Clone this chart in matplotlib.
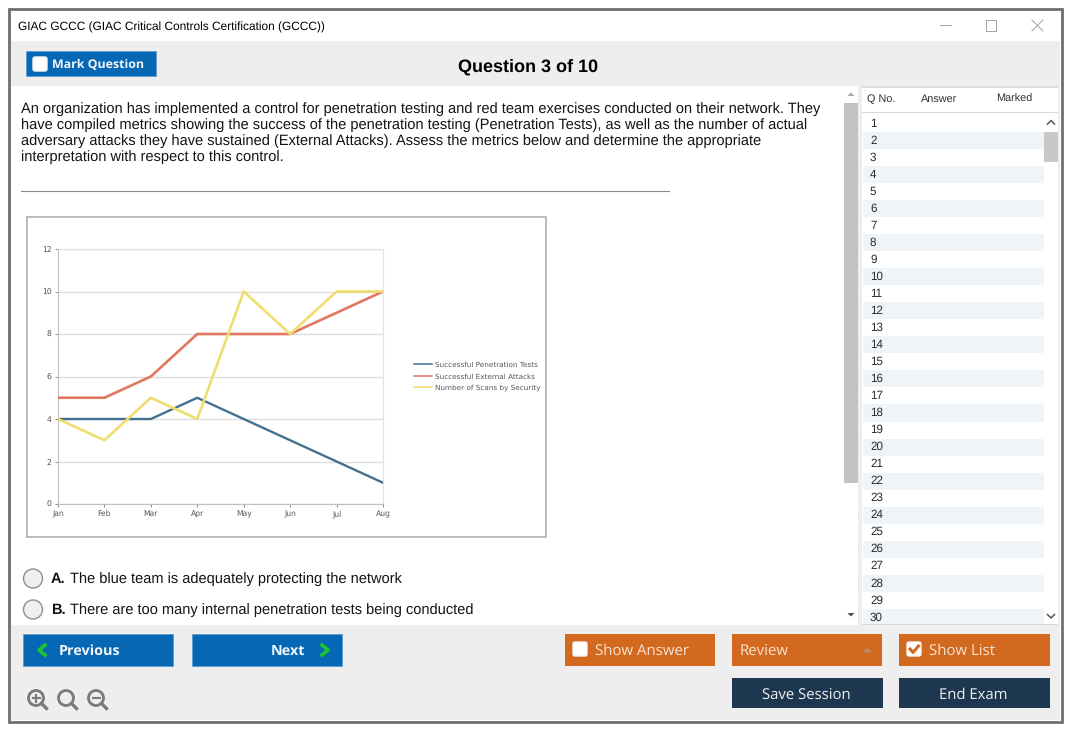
import matplotlib
matplotlib.use('Agg')
import matplotlib.pyplot as plt
from matplotlib.patches import Rectangle, Circle, FancyBboxPatch, Polygon

plt.rcParams['text.hinting'] = 'no_hinting'

W, H = 1075, 735

months = ["Jan", "Feb", "Mar", "Apr", "May", "Jun", "Jul", "Aug"]
pen_tests = [4, 4, 4, 5, 4, 3, 2, 1]
ext_attacks = [5, 5, 6, 8, 8, 8, 9, 10]
scans = [4, 3, 5, 4, 10, 8, 10, 10]
y_ticks = [0, 2, 4, 6, 8, 10, 12]
series_names = ["Successful Penetration Tests", "Successful External Attacks", "Number of Scans by Security"]

question_lines = [
    "An organization has implemented a control for penetration testing and red team exercises conducted on their network. They",
    "have compiled metrics showing the success of the penetration testing (Penetration Tests), as well as the number of actual",
    "adversary attacks they have sustained (External Attacks). Assess the metrics below and determine the appropriate",
    "interpretation with respect to this control.",
]
question_nos = list(range(1, 31))

BLUE = "#0667b4"
ORANGE = "#d2691f"
NAVY = "#1c374f"
PANEL = "#eeeeee"
UI = "Open Sans"
BODY = "Liberation Sans"

fig = plt.figure(figsize=(W / 100, H / 100), dpi=100, facecolor="white")
ui = fig.add_axes([0, 0, 1, 1])
ui.set_xlim(0, W)
ui.set_ylim(H, 0)
ui.axis("off")


def box(x0, y0, x1, y1, color, ec="none", lw=0, z=1):
    ui.add_patch(Rectangle((x0, y0), x1 - x0, y1 - y0, facecolor=color, edgecolor=ec, linewidth=lw, zorder=z))


def label(x, y, s, size, color="black", family=BODY, weight="normal", ha="left"):
    ui.text(x, y, s, fontsize=size, color=color, family=family, fontweight=weight, ha=ha, va="center", zorder=6)


def checkbox(x, y, checked=False):
    ui.add_patch(FancyBboxPatch((x, y), 14, 14, boxstyle="round,pad=0,rounding_size=2",
                                facecolor="white", edgecolor="#f4f4f4", linewidth=1, zorder=5))
    if checked:
        ui.plot([x + 3, x + 6, x + 11.5], [y + 7, y + 10.5, y + 4], color=ORANGE, lw=2.2, zorder=6)


# window frame and panels
box(9, 9, 1062, 722, "white", ec="#6f6f6f", lw=2)
box(11, 41, 1060, 86, PANEL, z=2)
box(11, 625, 1060, 720, PANEL, z=2)
box(858, 86, 862, 625, PANEL, z=2)
box(1058, 86, 1060, 625, PANEL, z=2)

label(18, 27, "GIAC GCCC (GIAC Critical Controls Certification (GCCC))", 8.6)
ui.plot([940, 951], [25, 25], color="#a0a0a0", lw=0.7, zorder=5)
box(986, 20, 996, 31, "none", ec="#a0a0a0", lw=0.7, z=5)
ui.plot([1032, 1043], [20, 31], color="#a0a0a0", lw=0.7, zorder=5)
ui.plot([1032, 1043], [31, 20], color="#a0a0a0", lw=0.7, zorder=5)

# top bar
box(26, 51, 156, 76, BLUE, ec="#5b9bd0", lw=0.6, z=3)
checkbox(33, 57)
label(52, 64.5, "Mark Question", 8.9, "#f2f6fa", UI, "bold")
label(528, 66.5, "Question 3 of 10", 13, "black", BODY, "bold", "center")

# question text
for i, line in enumerate(question_lines):
    label(21, 109.5 + 16 * i, line, 10.53, "#141414")
ui.plot([21, 669], [191, 191], color="#8a8a8a", lw=0.8, zorder=3)

# picture frame
box(27, 217, 546, 537, "white", ec="#a8a8a8", lw=1.1, z=3)

# answers
for cy, letter, text in [(579, "A.", "The blue team is adequately protecting the network"),
                         (610, "B.", "There are too many internal penetration tests being conducted")]:
    ui.add_patch(Circle((33, cy - 0.5), 9.5, facecolor="#efefef", edgecolor="#8f8f8f", linewidth=1, zorder=3))
    label(51, cy, letter, 10.5, "#141414", BODY, "bold")
    label(70, cy, text, 10.5, "#141414")

# left scrollbar
box(844, 103, 858, 483, "#c2c2c2", z=3)
ui.add_patch(Polygon([[847.5, 96], [851, 92.5], [854.5, 96]], facecolor="#a8a8a8", zorder=3))
ui.add_patch(Polygon([[847.5, 613], [851, 616.5], [854.5, 613]], facecolor="#505050", zorder=3))

# question list
box(862, 86, 1058, 87.5, "#dcdcdc", z=3)
box(862, 111.5, 1058, 113, "#d8d8d8", z=3)
label(867, 99.5, "Q No.", 7.8, "#333333")
label(921, 99.5, "Answer", 7.8, "#333333")
label(996, 99, "Marked", 7.8, "#333333")
row_h = 17.03
for i, no in enumerate(question_nos):
    yc = 123.5 + i * row_h
    if no % 2 == 0:
        box(863, yc - row_h / 2, 1044, yc + row_h / 2, "#eff4f9", z=2)
    label(870, yc, str(no), 8.4, "#2a2a2a")
box(862, 624, 1058, 625, "#d8d8d8", z=3)
box(1044, 132, 1058, 162, "#c8c8c8", z=3)
ui.plot([1047.5, 1051, 1054.5], [124, 120.5, 124], color="#555555", lw=1.1, zorder=4)
ui.plot([1047.5, 1051, 1054.5], [614.5, 618, 614.5], color="#555555", lw=1.1, zorder=4)

# bottom buttons
box(23, 634, 173, 666, BLUE, ec="#5b9bd0", lw=0.6, z=3)
box(192, 634, 342, 666, BLUE, ec="#5b9bd0", lw=0.6, z=3)
ui.plot([45, 39, 45], [645, 650, 655], color="#22c22e", lw=2.6, zorder=5)
ui.plot([322, 328, 322], [645, 650, 655], color="#22c22e", lw=2.6, zorder=5)
label(59, 651, "Previous", 10.4, "#f2f6fa", UI, "bold")
label(271, 651, "Next", 10.4, "#f2f6fa", UI, "bold")

box(565, 634, 715, 666, ORANGE, z=3)
box(732, 634, 882, 666, ORANGE, z=3)
box(899, 634, 1050, 666, ORANGE, z=3)
checkbox(573, 642)
checkbox(907, 642, checked=True)
label(595, 650.5, "Show Answer", 10.8, "#f7e4d4", UI)
label(740, 650.5, "Review", 10.8, "#f7e4d4", UI)
ui.add_patch(Polygon([[862, 652.5], [867.5, 647.5], [873, 652.5]], facecolor="#b98a68", zorder=5))
label(929, 650.5, "Show List", 10.8, "#f7e4d4", UI)

box(732, 678, 883, 708, NAVY, z=3)
box(899, 678, 1050, 708, NAVY, z=3)
label(806, 694.5, "Save Session", 10.7, "#f0f0f0", UI, ha="center")
label(973, 694.5, "End Exam", 10.7, "#f0f0f0", UI, ha="center")

# zoom icons
for cx, sign in [(36, "+"), (66, ""), (96, "-")]:
    ui.add_patch(Circle((cx, 698), 7.5, facecolor="none", edgecolor="#7a7a7a", linewidth=2, zorder=4))
    ui.plot([cx + 5.5, cx + 10.5], [703.5, 708.5], color="#7a7a7a", lw=2.4, zorder=4)
    if sign:
        ui.plot([cx - 3.5, cx + 3.5], [698, 698], color="#7a7a7a", lw=1.5, zorder=5)
    if sign == "+":
        ui.plot([cx, cx], [694.5, 701.5], color="#7a7a7a", lw=1.5, zorder=5)

# embedded line chart, plot area in screen pixels
px0, px1, py0, py1 = 58, 383, 249, 504
ax = fig.add_axes([px0 / W, 1 - py1 / H, (px1 - px0) / W, (py1 - py0) / H], facecolor="white", zorder=5)
x = list(range(len(months)))
ax.plot(x, pen_tests, color="#44708f", lw=1.7, label=series_names[0], zorder=3)
ax.plot(x, ext_attacks, color="#e0775f", lw=1.9, label=series_names[1], zorder=3)
ax.plot(x, scans, color="#efdd6e", lw=1.9, label=series_names[2], zorder=4)
ax.set_xlim(0, len(months) - 1)
ax.set_ylim(0, 12)
ax.set_xticks(x)
ax.set_xticklabels(months)
ax.set_yticks(y_ticks)
ax.grid(True, axis="y", color="#dddddd", lw=1)
ax.set_axisbelow(True)
ax.tick_params(colors="#8a8a8a", labelcolor="#555555", labelsize=5.5, length=2.5, width=0.7, pad=2)
for spine in ["top", "right"]:
    ax.spines[spine].set_color("#e2e2e2")
for spine in ["left", "bottom"]:
    ax.spines[spine].set_color("#c0c0c0")
leg = ax.legend(loc="center left", bbox_to_anchor=(414 / W, 1 - 376.5 / H), bbox_transform=fig.transFigure,
                frameon=False, fontsize=5.2, handlelength=2.5, handletextpad=0.35, labelspacing=0.65,
                borderpad=0, borderaxespad=0, labelcolor="#555555")
for h in leg.get_lines():
    h.set_linewidth(1.1)

fig.savefig("out.png", dpi=100, facecolor=fig.get_facecolor())
plt.close(fig)
